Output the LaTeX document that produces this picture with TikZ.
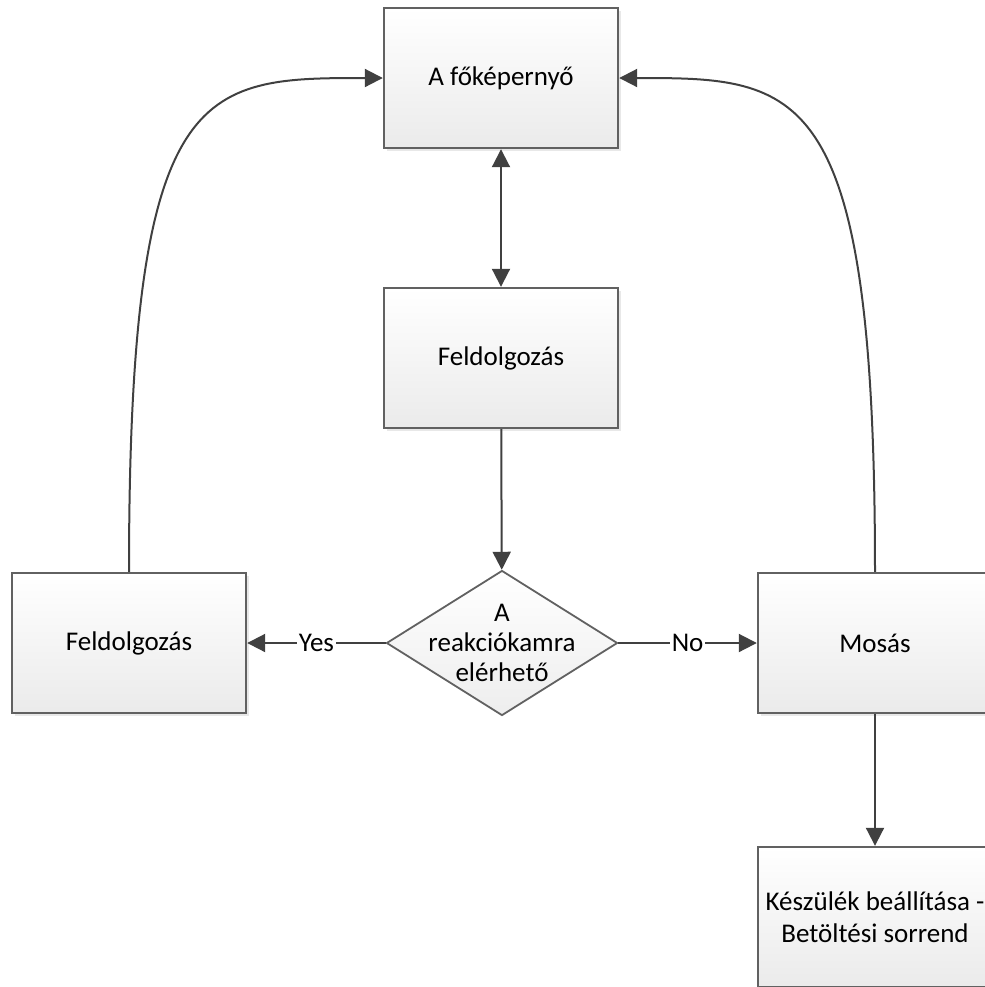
\documentclass[tikz,border=0pt]{standalone}
\usepackage{fontspec}
\setmainfont{Carlito}
\usetikzlibrary{shapes.geometric,arrows.meta,shadows}

\begin{document}
\begin{tikzpicture}[x=0.5pt,y=-0.5pt,
  every node/.style={font=\fontsize{13.5}{16}\selectfont},
  box/.style={draw=black!62, line width=1.2pt, top color=white, bottom color=black!8, minimum width=117pt, minimum height=70pt, align=center,
    drop shadow={shadow xshift=1.3pt, shadow yshift=-1.3pt, opacity=0.18}},
  decision/.style={diamond, draw=black!62, line width=0.9pt, top color=white, bottom color=black!7, minimum width=115.5pt, minimum height=72.5pt, inner sep=0pt},
  line/.style={draw=black!75, line width=1pt, -{Triangle[length=9pt,width=9pt]}},
  lbl/.style={fill=white, inner sep=1pt}]
  \useasboundingbox (0,0) rectangle (985,987);
  \node[box] (main) at (501,78) {A főképernyő};
  \node[box] (proc) at (501,358) {Feldolgozás};
  \node[decision, label={[align=center, font=\fontsize{13.5}{15}\selectfont]center:A\\reakciókamra\\elérhető}] (dec) at (502,643) {};
  \node[box] (procleft) at (129,643) {Feldolgozás};
  \node[box] (wash) at (875,643) {Mosás};
  \node[box] (setup) at (875,917) {Készülék beállítása -\\Betöltési sorrend};
  % connectors
  \draw[line, {Triangle[length=9pt,width=9pt]}-{Triangle[length=9pt,width=9pt]}] (main) -- (proc);
  \draw[line] (proc) -- (dec);
  \draw[line] (dec) -- node[lbl]{Yes} (procleft);
  \draw[line] (dec) -- node[lbl]{No} (wash);
  \draw[line] (wash) -- (setup);
  \draw[line] (procleft.north) .. controls (129,80) and (200,78) .. (main.west);
  \draw[line] (wash.north) .. controls (875,80) and (800,78) .. (main.east);
\end{tikzpicture}
\end{document}
